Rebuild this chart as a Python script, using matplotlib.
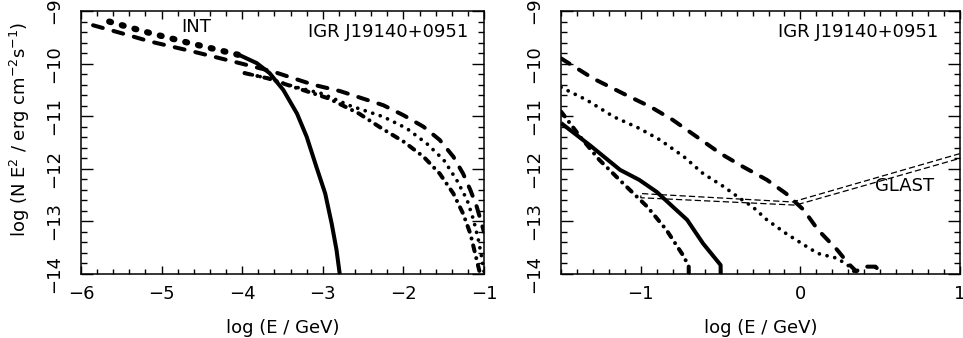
import numpy as np
import matplotlib
matplotlib.use("Agg")
import matplotlib.pyplot as plt
from matplotlib.ticker import MultipleLocator

plt.rcParams.update({"font.family": "DejaVu Sans",
                     "font.size": 12,
                     "axes.linewidth": 1.1,
                     "xtick.direction": "in",
                     "ytick.direction": "in",
                     "xtick.top": True,
                     "ytick.right": True})

# ---- left panel (INTEGRAL range) ----
int_x = [-5.65, -5.40, -5.14, -4.65, -4.13, -4.03]
int_y = [-9.20, -9.31, -9.42, -9.61, -9.80, -9.84]

sol_l_x = [-4.03, -3.82, -3.66, -3.49, -3.32, -3.20, -3.08, -2.97, -2.89, -2.83, -2.79]
sol_l_y = [-9.84, -9.99, -10.18, -10.50, -10.95, -11.39, -11.96, -12.47, -13.04, -13.54, -14.0]

dash_l_x = [-5.85, -5.5, -5.14, -4.61, -4.11, -3.62, -3.12, -2.79, -2.25, -2.00,
            -1.75, -1.55, -1.38, -1.26, -1.17, -1.09, -1.03, -1.0]
dash_l_y = [-9.27, -9.42, -9.58, -9.77, -9.96, -10.15, -10.40, -10.52, -10.79, -10.98,
            -11.20, -11.45, -11.77, -12.09, -12.40, -12.72, -13.04, -13.2]

dot_l_x = [-3.97, -3.68, -3.35, -3.01, -2.66, -2.25, -1.96, -1.71, -1.50, -1.34,
           -1.21, -1.13, -1.07, -1.03, -1.0]
dot_l_y = [-10.18, -10.28, -10.44, -10.57, -10.80, -11.01, -11.23, -11.52, -11.83, -12.21,
           -12.59, -12.97, -13.35, -13.67, -13.95]

dd_l_x = [-3.97, -3.68, -3.35, -2.93, -2.55, -2.27, -2.00, -1.75, -1.55, -1.38,
          -1.26, -1.17, -1.11, -1.05, -1.02]
dd_l_y = [-10.18, -10.28, -10.45, -10.66, -10.95, -11.23, -11.48, -11.77, -12.09, -12.47,
          -12.85, -13.23, -13.61, -13.99, -14.2]

# ---- right panel (GeV range) ----
dash_r_x = [-1.5, -1.30, -1.09, -0.94, -0.80, -0.65, -0.50, -0.36, -0.21, -0.09,
            0.02, 0.11, 0.23, 0.30, 0.35, 0.39, 0.47, 0.53]
dash_r_y = [-9.90, -10.28, -10.60, -10.82, -11.07, -11.39, -11.71, -11.96, -12.21, -12.47,
            -12.78, -13.16, -13.54, -13.80, -13.95, -13.86, -13.86, -14.05]

dot_r_x = [-1.5, -1.34, -1.17, -1.01, -0.88, -0.73, -0.61, -0.48, -0.38, -0.30,
           -0.21, -0.09, 0.04, 0.11, 0.23, 0.31, 0.35]
dot_r_y = [-10.45, -10.69, -11.01, -11.23, -11.45, -11.77, -12.09, -12.34, -12.56, -12.72,
           -12.97, -13.23, -13.48, -13.61, -13.70, -13.86, -14.0]

sol_r_x = [-1.5, -1.32, -1.13, -1.01, -0.90, -0.80, -0.71, -0.61, -0.50, -0.50]
sol_r_y = [-11.13, -11.55, -12.02, -12.21, -12.44, -12.72, -12.97, -13.42, -13.83, -14.0]

dd_r_x = [-1.5, -1.38, -1.26, -1.11, -0.96, -0.84, -0.73, -0.70, -0.70]
dd_r_y = [-10.91, -11.39, -11.83, -12.28, -12.72, -13.16, -13.67, -13.86, -14.0]

glast_x = [1.0, -0.05, -1.0, -1.0, -0.03, 1.0]
glast_y = [-11.71, -12.63, -12.47, -12.55, -12.69, -11.80]

source = "IGR J19140+0951"
xlab = "log (E / GeV)"
ylab = r"log (N E$^2$ / erg cm$^{-2}$s$^{-1}$)"

lw = 2.9
dashed = dict(color="k", lw=lw, dashes=(2.5, 2.75), dash_capstyle="round")
dotted = dict(color="k", lw=2.7, dashes=(0.01, 2.1), dash_capstyle="round")
dashdot = dict(color="k", lw=lw, dashes=(1.5, 1.75, 0.01, 1.75), dash_capstyle="round")
solid = dict(color="k", lw=lw, solid_capstyle="butt")

fig = plt.figure(figsize=(9.63, 3.38), dpi=100)
ax1 = fig.add_axes([0.0841, 0.1893, 0.4185, 0.778])
ax2 = fig.add_axes([0.5826, 0.1893, 0.4143, 0.778])

ax1.plot(int_x, int_y, color="k", lw=4.5, dashes=(0.3, 1.8), dash_capstyle="round")
ax1.plot(sol_l_x, sol_l_y, **solid)
ax1.plot(dash_l_x, dash_l_y, **dashed)
ax1.plot(dot_l_x, dot_l_y, **dotted)
ax1.plot(dd_l_x, dd_l_y, **dashdot)
ax1.set_xlim(-6, -1)
ax1.xaxis.set_major_locator(MultipleLocator(1))
ax1.xaxis.set_minor_locator(MultipleLocator(0.2))
ax1.text(0.285, 0.939, "INT", transform=ax1.transAxes, ha="center", va="center", fontsize=13)
ax1.text(0.96, 0.92, source, transform=ax1.transAxes, ha="right", va="center", fontsize=13)

ax2.plot(sol_r_x, sol_r_y, **solid)
ax2.plot(dash_r_x, dash_r_y, **dashed)
ax2.plot(dot_r_x, dot_r_y, **dotted)
ax2.plot(dd_r_x, dd_r_y, **dashdot)
ax2.plot(glast_x, glast_y, color="k", lw=0.9, dashes=(5, 2.5))
ax2.set_xlim(-1.5, 1)
ax2.xaxis.set_major_locator(MultipleLocator(1))
ax2.xaxis.set_minor_locator(MultipleLocator(0.1))
ax2.text(0.84, -12.33, "GLAST", ha="right", va="center", fontsize=13)
ax2.text(0.945, 0.92, source, transform=ax2.transAxes, ha="right", va="center", fontsize=13)

for ax in (ax1, ax2):
    ax.set_ylim(-14, -9)
    ax.yaxis.set_major_locator(MultipleLocator(1))
    ax.yaxis.set_minor_locator(MultipleLocator(0.2))
    ax.tick_params(axis="x", which="major", length=6, width=1.0, labelsize=13, pad=8)
    ax.tick_params(axis="x", which="minor", length=3.6, width=1.0)
    ax.tick_params(axis="y", which="major", length=8.5, width=1.0, labelsize=13,
                   pad=13, labelrotation=90)
    ax.tick_params(axis="y", which="minor", length=4.3, width=1.0)
    for t in ax.get_yticklabels():
        t.set_va("center")
    ax.set_xlabel(xlab, fontsize=13)
    ax.xaxis.set_label_coords(0.5, -0.17)

ax1.set_ylabel(ylab, fontsize=13)
ax1.yaxis.set_label_coords(-0.122, 0.55)

fig.savefig("out.png", dpi=100)
